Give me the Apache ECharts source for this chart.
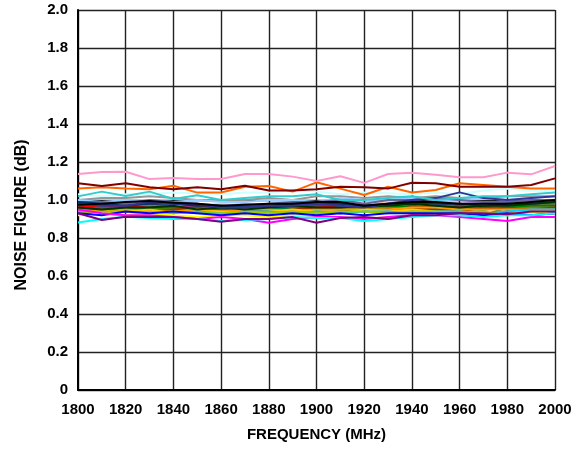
<!DOCTYPE html>
<html>
<head>
<meta charset="utf-8">
<script src="https://cdn.jsdelivr.net/npm/echarts@6/dist/echarts.min.js"></script>
<style>html,body{margin:0;padding:0;background:#fff;}#c{width:585px;height:449px;}</style>
</head>
<body>
<div id="c"></div>
<script>
const freq = [1800,1810,1820,1830,1840,1850,1860,1870,1880,1890,1900,1910,1920,1930,1940,1950,1960,1970,1980,1990,2000];
const xTicks = [1800,1820,1840,1860,1880,1900,1920,1940,1960,1980,2000];
const yTicks = [0,0.2,0.4,0.6,0.8,1.0,1.2,1.4,1.6,1.8,2.0];

const pink      = [1.137,1.147,1.149,1.11,1.116,1.11,1.11,1.137,1.137,1.123,1.10,1.125,1.09,1.137,1.144,1.133,1.12,1.12,1.144,1.135,1.179];
const darkRed   = [1.088,1.074,1.088,1.067,1.056,1.067,1.056,1.075,1.05,1.05,1.056,1.07,1.067,1.06,1.091,1.088,1.07,1.07,1.07,1.079,1.114];
const orange    = [1.06,1.067,1.06,1.056,1.075,1.039,1.039,1.07,1.074,1.044,1.093,1.06,1.026,1.07,1.039,1.053,1.088,1.079,1.07,1.06,1.06];
const teal      = [1.019,1.044,1.021,1.044,1.005,1.025,1.0,1.01,1.02,1.02,1.03,1.0,1.0,1.01,1.02,1.0,1.01,1.02,1.02,1.03,1.04];
const paleCyan  = [1.03,1.02,1.03,1.03,1.04,1.035,1.03,1.04,1.04,1.05,1.045,1.03,1.04,1.035,1.03,1.04,1.03,1.05,1.06,1.05,1.05];
const gray      = [1.0,1.01,1.01,1.02,1.01,1.0,1.0,1.0,1.01,1.0,1.02,1.02,1.01,1.02,1.01,1.02,1.01,1.01,1.02,1.02,1.02];
const lightBlue = [1.0,0.99,1.0,1.0,0.99,1.0,0.99,0.99,1.0,1.0,0.99,1.01,1.0,1.0,1.01,1.0,1.0,1.01,1.0,1.01,1.02];
const slate     = [0.99,0.99,0.98,1.0,0.99,0.98,0.97,0.97,0.98,0.99,0.99,1.0,0.98,1.0,1.0,1.01,1.0,0.99,0.99,1.0,1.0];
const navy      = [0.98,0.97,0.97,0.99,0.98,0.98,0.96,0.96,0.97,0.97,0.98,0.97,0.96,0.98,1.0,1.01,1.04,1.01,1.0,1.01,1.02];
const tan       = [0.98,0.97,0.98,0.99,0.97,0.97,0.98,0.97,0.98,0.98,0.97,0.98,0.97,0.99,0.98,0.98,0.97,0.98,0.98,0.97,0.98];
const lavender  = [0.96,0.97,0.99,0.98,0.97,0.97,0.97,0.98,0.97,0.97,0.98,0.99,0.98,0.98,0.99,0.98,0.98,0.99,0.98,0.99,1.0];
const plum      = [0.97,0.96,0.97,0.98,0.96,0.97,0.96,0.97,0.96,0.97,0.97,0.98,0.97,0.97,0.96,0.97,0.98,0.97,0.97,0.97,0.98];
const darkTeal  = [0.99,0.98,0.97,0.98,0.98,0.97,0.97,0.96,0.97,0.98,0.98,0.98,0.97,0.98,0.98,0.98,0.98,0.97,0.98,0.98,0.99];
const seaGreen  = [0.97,0.96,0.96,0.97,0.96,0.96,0.97,0.96,0.97,0.97,0.96,0.97,0.96,0.97,0.96,0.97,0.96,0.97,0.96,0.97,0.98];
const red       = [0.97,0.96,0.97,0.96,0.96,0.97,0.96,0.96,0.97,0.96,0.97,0.96,0.96,0.96,0.97,0.96,0.97,0.96,0.96,0.97,0.97];
const royal     = [0.96,0.95,0.96,0.95,0.96,0.96,0.95,0.96,0.95,0.96,0.95,0.96,0.96,0.95,0.96,0.95,0.96,0.95,0.96,0.96,0.97];
const teal2     = [0.95,0.96,0.95,0.96,0.95,0.95,0.96,0.96,0.95,0.96,0.96,0.95,0.96,0.96,0.95,0.95,0.95,0.92,0.96,0.96,0.96];
const green     = [0.95,0.94,0.95,0.95,0.96,0.94,0.95,0.95,0.96,0.96,0.95,0.96,0.96,0.97,0.96,0.96,0.95,0.95,0.96,0.97,0.97];
const olive     = [0.95,0.95,0.94,0.95,0.95,0.95,0.94,0.95,0.95,0.94,0.95,0.95,0.95,0.96,0.95,0.95,0.95,0.96,0.95,0.96,0.96];
const brown     = [0.96,0.95,0.95,0.94,0.95,0.96,0.94,0.95,0.94,0.95,0.96,0.95,0.94,0.95,0.96,0.95,0.94,0.96,0.95,0.95,0.96];
const ltOrange  = [0.95,0.94,0.95,0.94,0.94,0.95,0.94,0.95,0.95,0.94,0.95,0.95,0.95,0.95,0.96,0.96,0.95,0.95,0.95,0.95,0.95];
const gold      = [0.94,0.93,0.94,0.95,0.93,0.94,0.94,0.93,0.94,0.95,0.94,0.93,0.95,0.94,0.95,0.94,0.94,0.93,0.93,0.94,0.94];
const skyBlue   = [0.94,0.93,0.92,0.93,0.93,0.94,0.93,0.94,0.94,0.93,0.94,0.93,0.94,0.94,0.93,0.94,0.94,0.93,0.94,0.95,0.95];
const yGreen    = [0.93,0.94,0.94,0.93,0.94,0.93,0.93,0.94,0.93,0.94,0.93,0.94,0.94,0.93,0.94,0.94,0.93,0.94,0.92,0.93,0.93];
const yellow    = [0.92,0.93,0.92,0.93,0.92,0.91,0.92,0.92,0.91,0.92,0.92,0.91,0.90,0.91,0.92,0.93,0.92,0.93,0.92,0.93,0.93];
const blue      = [0.93,0.92,0.94,0.93,0.94,0.93,0.92,0.93,0.92,0.93,0.92,0.93,0.92,0.93,0.93,0.93,0.93,0.92,0.93,0.92,0.93];
const magenta   = [0.95,0.93,0.92,0.92,0.91,0.90,0.91,0.90,0.88,0.90,0.91,0.91,0.90,0.91,0.92,0.92,0.91,0.90,0.89,0.91,0.91];
const purple    = [0.93,0.895,0.912,0.91,0.91,0.90,0.886,0.90,0.90,0.91,0.88,0.905,0.91,0.90,0.92,0.92,0.93,0.93,0.925,0.94,0.94];
const cyan      = [0.882,0.90,0.912,0.905,0.90,0.90,0.89,0.895,0.90,0.91,0.905,0.905,0.89,0.90,0.91,0.92,0.92,0.91,0.92,0.92,0.93];
const darkGreen = [0.96,0.95,0.96,0.96,0.97,0.95,0.96,0.95,0.96,0.97,0.96,0.96,0.97,0.97,0.98,0.97,0.96,0.97,0.97,0.98,0.99];
const black     = [0.975,0.98,0.99,0.995,0.985,0.98,0.97,0.975,0.98,0.98,0.99,0.99,0.97,0.98,0.99,0.99,0.98,0.98,0.98,0.99,1.0];

const curves = [
  ['paleCyan', paleCyan, '#CCFFFF'],
  ['gray', gray, '#969696'],
  ['lightBlue', lightBlue, '#99CCFF'],
  ['tan', tan, '#FFCC99'],
  ['lavender', lavender, '#CC99FF'],
  ['slate', slate, '#666699'],
  ['plum', plum, '#993366'],
  ['seaGreen', seaGreen, '#339966'],
  ['red', red, '#FF0000'],
  ['royal', royal, '#3366FF'],
  ['teal2', teal2, '#008080'],
  ['green', green, '#008000'],
  ['olive', olive, '#808000'],
  ['brown', brown, '#993300'],
  ['ltOrange', ltOrange, '#FF9900'],
  ['gold', gold, '#FFCC00'],
  ['skyBlue', skyBlue, '#00CCFF'],
  ['yGreen', yGreen, '#99CC00'],
  ['yellow', yellow, '#FFFF00'],
  ['blue', blue, '#0000FF'],
  ['magenta', magenta, '#FF00FF'],
  ['cyan', cyan, '#00FFFF'],
  ['purple', purple, '#800080'],
  ['darkTeal', darkTeal, '#003366'],
  ['darkGreen', darkGreen, '#003300'],
  ['navy', navy, '#333399'],
  ['black', black, '#000000'],
  ['teal', teal, '#33CCCC'],
  ['orange', orange, '#FF6600'],
  ['darkRed', darkRed, '#800000'],
  ['pink', pink, '#FF99CC']
];

const font = 'Liberation Sans, Arial, sans-serif';
const chart = echarts.init(document.getElementById('c'), null, {renderer: 'canvas'});
chart.setOption({
  animation: false,
  backgroundColor: '#fff',
  grid: {left: 78, right: 30, top: 10, bottom: 59, containLabel: false},
  xAxis: {
    type: 'value', min: xTicks[0], max: xTicks[xTicks.length-1], interval: 20,
    name: 'FREQUENCY (MHz)', nameLocation: 'middle', nameGap: 37,
    nameTextStyle: {fontFamily: font, fontWeight: 'bold', fontSize: 15, color: '#000'},
    axisLine: {show: true, lineStyle: {color: '#000', width: 2}},
    axisTick: {show: false},
    axisLabel: {fontFamily: font, fontWeight: 'bold', fontSize: 15, color: '#000', margin: 12,
      formatter: v => String(v)},
    splitLine: {show: true, lineStyle: {color: '#222', width: 1.4}}
  },
  yAxis: {
    type: 'value', min: yTicks[0], max: yTicks[yTicks.length-1], interval: 0.2,
    name: 'NOISE FIGURE (dB)', nameLocation: 'middle', nameGap: 48,
    nameTextStyle: {fontFamily: font, fontWeight: 'bold', fontSize: 16, color: '#000', padding: [0, 30, 0, 0]},
    axisLine: {show: true, lineStyle: {color: '#000', width: 2}},
    axisTick: {show: false},
    axisLabel: {fontFamily: font, fontWeight: 'bold', fontSize: 15, color: '#000', margin: 10,
      formatter: v => v === 0 ? '0' : v.toFixed(1)},
    splitLine: {show: true, lineStyle: {color: '#222', width: 1.4}}
  },
  series: curves.map(([n, d, c]) => ({
    name: n, type: 'line', data: freq.map((f, i) => [f, d[i]]),
    showSymbol: false, symbol: 'none', lineStyle: {color: c, width: 2}, itemStyle: {color: c}
  }))
});
</script>
</body>
</html>
